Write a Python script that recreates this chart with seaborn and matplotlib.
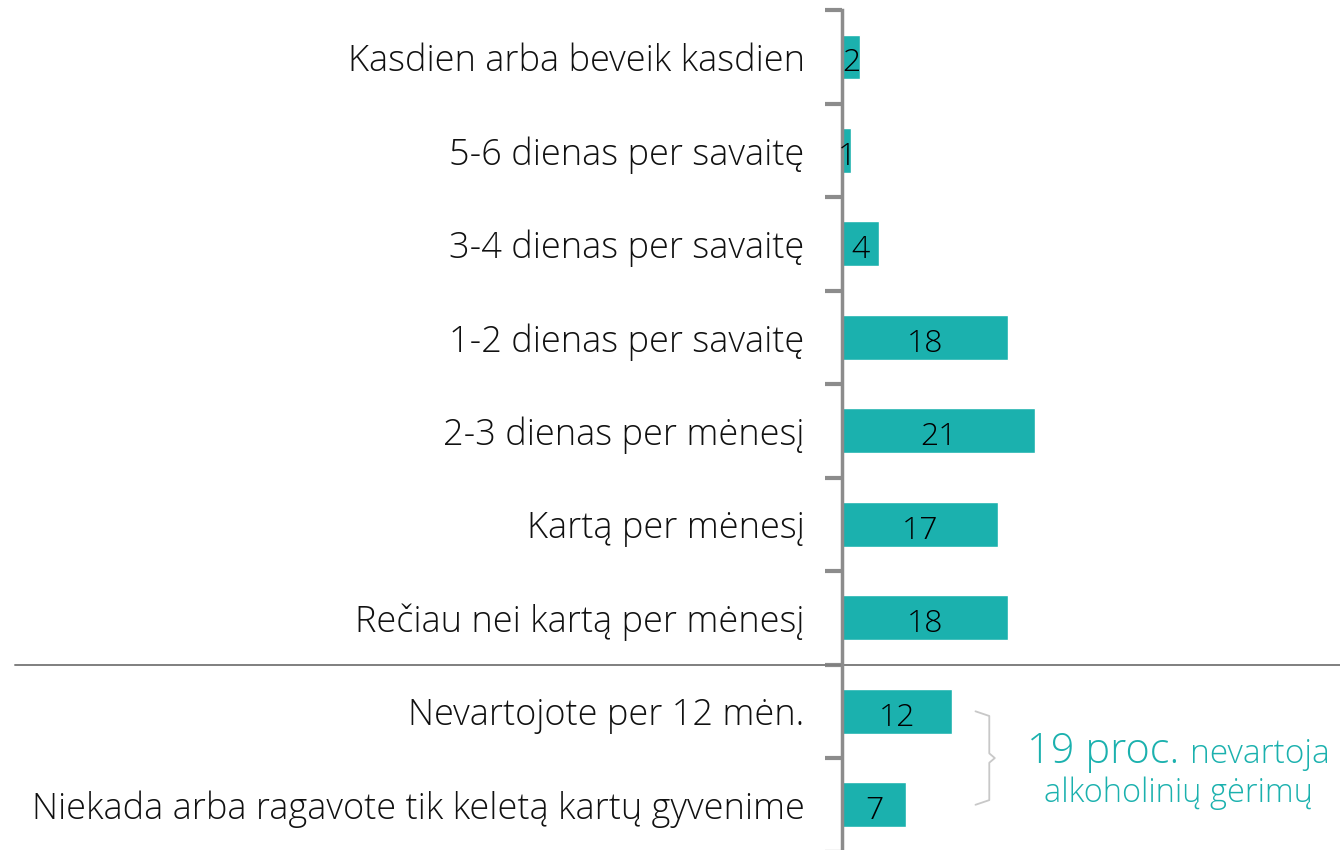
import numpy as np
import pandas as pd
import seaborn as sns
import matplotlib.pyplot as plt
import matplotlib.transforms as mtransforms

sns.set_theme(style="white")
plt.rcParams['font.family'] = ['Open Sans', 'DejaVu Sans']

categories = ["Kasdien arba beveik kasdien",
              "5-6 dienas per savaitę",
              "3-4 dienas per savaitę",
              "1-2 dienas per savaitę",
              "2-3 dienas per mėnesį",
              "Kartą per mėnesį",
              "Rečiau nei kartą per mėnesį",
              "Nevartojote per 12 mėn.",
              "Niekada arba ragavote tik keletą kartų gyvenime"]
values = [2, 1, 4, 18, 21, 17, 18, 12, 7]

teal = "#1BB1AE"
grey = "#8C8C8C"

df = pd.DataFrame({"cat": categories, "val": values})

fig = plt.figure(figsize=(13.4, 8.5), dpi=100)
ax = fig.add_axes([842 / 1340, -0.004, 498 / 1340, 0.992])

sns.barplot(data=df, y="cat", x="val", color=teal, width=0.48,
            saturation=1, ax=ax, orient="h")

ax.set_xlim(0, 54.1)
ax.set_ylim(8.52, -0.5)
ax.set_xlabel("")
ax.set_ylabel("")
ax.set_xticks([])

for s in ["top", "right", "bottom"]:
    ax.spines[s].set_visible(False)
ax.spines["left"].set_color(grey)
ax.spines["left"].set_linewidth(2.5)

ax.set_yticks(np.arange(-0.5, 9.0, 1.0), minor=True)
ax.tick_params(axis="y", which="major", left=False, length=0, pad=27)
ax.tick_params(axis="y", which="minor", left=True, length=12, width=3,
               color=grey, direction="out")
for lbl in ax.get_yticklabels():
    lbl.set_fontsize(26)
    lbl.set_fontweight("light")
    lbl.set_color("#111111")

# value labels
for i, v in enumerate(values):
    ax.text(v / 2, i + 0.07, str(v), ha="center", va="center",
            fontsize=23, fontweight="light", color="black")

# separator line
trans = mtransforms.blended_transform_factory(ax.transAxes, ax.transData)
ax.plot([-1.66, 1.0], [6.5, 6.5], color="#7F7F7F", lw=1.4,
        transform=trans, clip_on=False)

# brace for the last two rows
bx0, bx1, bt = 14.5, 16.0, 16.6
ax.plot([bx0, bx1, bx1, bt, bx1, bx1, bx0],
        [7.0, 7.05, 7.45, 7.5, 7.55, 7.95, 8.0],
        color="#C8C8C8", lw=1.3, clip_on=False)

ax.text(36.7, 7.55, "19 proc.", ha="right", va="baseline",
        fontsize=30, fontweight="light", color=teal)
ax.text(37.8, 7.55, "nevartoja", ha="left", va="baseline",
        fontsize=24, fontweight="light", color=teal)
ax.text(36.5, 7.97, "alkoholinių gėrimų", ha="center", va="baseline",
        fontsize=23.5, fontweight="light", color=teal)

fig.savefig("out.png", dpi=100)
